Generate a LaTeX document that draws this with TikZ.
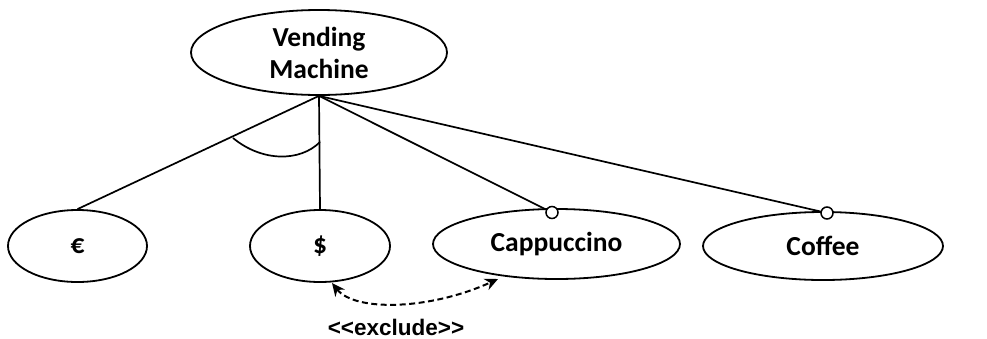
\documentclass[tikz,border=0pt]{standalone}
\usepackage{fontspec}
\setmainfont{Carlito}
\newfontfamily\arialfont{Liberation Sans}
\usetikzlibrary{shapes.geometric,arrows.meta}
\tikzset{
  feat/.style={ellipse,draw,line width=1.8pt,inner sep=0pt,font=\fontsize{27.5}{32}\selectfont\bfseries,align=center},
  conn/.style={line width=1.7pt},
  optc/.style={circle,draw,line width=1.5pt,fill=white,minimum size=12pt,inner sep=0pt},
}
\begin{document}
\begin{tikzpicture}[x=1pt,y=-1pt]
\useasboundingbox (0,0) rectangle (987,338);
\node[feat,minimum width=256pt,minimum height=85pt] (vm) at (319,52.5) {Vending\\Machine};
\node[feat,minimum width=139pt,minimum height=72pt] (eur) at (77.5,246) {€};
\node[feat,minimum width=140pt,minimum height=72pt] (usd) at (320,246) {\$};
\node[feat,minimum width=247pt,minimum height=70pt] (cap) at (556.5,244) {Cappuccino};
\node[feat,minimum width=240pt,minimum height=68pt] (cof) at (823,246) {Coffee};
\coordinate (apex) at (vm.south);
\node[optc] (oc1) at (552,212.5) {};
\node[optc] (oc2) at (827,213) {};
\draw[conn] (apex) -- (eur.north);
\draw[conn] (apex) -- (usd.north);
\draw[conn] (apex) -- (oc1);
\draw[conn] (apex) -- (oc2);
\coordinate (g1) at (233,138);
\coordinate (g2) at (320,142);
\draw[conn] (g1) .. controls (262,162) and (300,162) .. (g2);
\coordinate (x1) at (332,283);
\coordinate (x2) at (498,279);
\draw[line width=2pt,dash pattern=on 6pt off 3.5pt,{Stealth[length=13pt,width=12pt]}-{Stealth[length=13pt,width=12pt]}]
  (x1) .. controls (355,312) and (430,310) .. (x2);
\node[font=\arialfont\bfseries\fontsize{22.5}{26}\selectfont] (lbl) at (396,327) {<{}<exclude>{}>};
\end{tikzpicture}
\end{document}
